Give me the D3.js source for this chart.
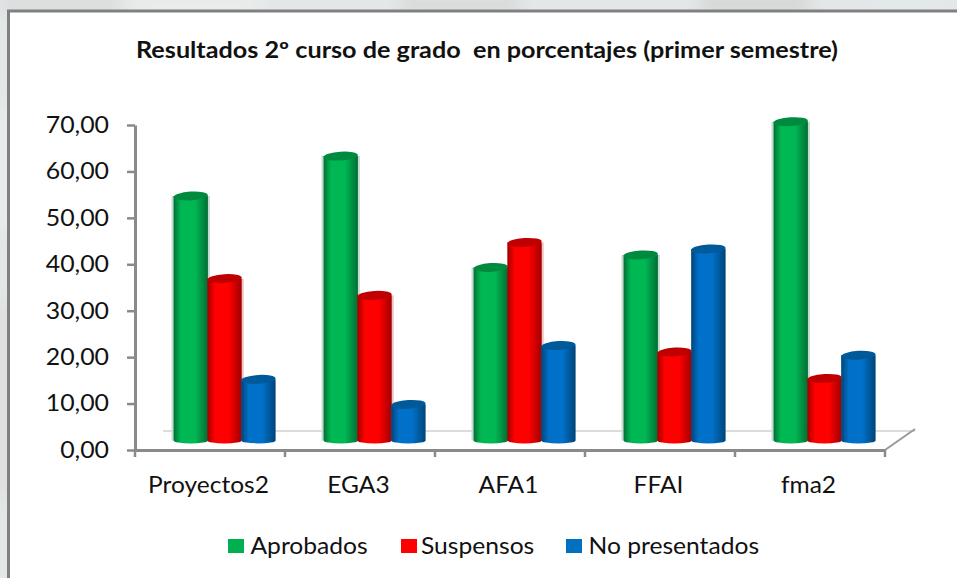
<!DOCTYPE html>
<html><head><meta charset="utf-8">
<script src="https://cdn.jsdelivr.net/npm/d3@7"></script>
<style>html,body{margin:0;padding:0;background:#fff}svg{display:block}text{font-family:Lato,"Open Sans",sans-serif;fill:#111}</style>
</head><body><svg id="c" width="957" height="578"></svg>
<script>
const titleText = "Resultados 2º curso de grado  en porcentajes (primer semestre)";
const categories = ["Proyectos2","EGA3","AFA1","FFAI","fma2"];
const seriesNames = ["Aprobados","Suspensos","No presentados"];
const aprobados = [53.2,61.8,37.8,40.5,69.2];
const suspensos = [35.4,31.8,43.2,19.6,13.9];
const noPresentados = [13.7,8.3,21.0,41.8,18.9];
const yTicks = [0,10,20,30,40,50,60,70];
const seriesValues = [aprobados,suspensos,noPresentados];
const palette = [
 {main:"#00b853",edge:"#006f35",top:"#008a40",legend:"#00b050",halo:"#c4dccf"},
 {main:"#ff0000",edge:"#a00000",top:"#c00000",legend:"#ff0000",halo:"#eec4c4"},
 {main:"#0070c8",edge:"#004478",top:"#005a9a",legend:"#0070c0",halo:"#c2d6e6"}];

const svg = d3.select("#c");
const defs = svg.append("defs");
palette.forEach((p,i)=>{
  const g = defs.append("linearGradient").attr("id","g"+i);
  [[0,p.edge],[.22,p.main],[.62,p.main],[1,p.edge]].forEach(s=>g.append("stop").attr("offset",s[0]).attr("stop-color",s[1]));
});
const blur = defs.append("filter").attr("id","soft");
blur.append("feGaussianBlur").attr("stdDeviation",8);

// backdrop behind the white panel
const bg = svg.append("g");
bg.append("rect").attr("width",957).attr("height",578).attr("fill","#e4e7e8");
bg.append("g").attr("filter","url(#soft)").selectAll("rect")
  .data([[0,0,120,10,"#d4d4d4"],[130,0,130,12,"#eeeeee"],[400,0,120,10,"#cfcfcf"],[560,0,90,10,"#e2e6e8"],[700,0,110,8,"#c2c2c2"],[860,0,97,10,"#e2e8ea"],[0,110,8,120,"#f0f2f3"],[0,300,8,200,"#d8d8d8"]])
  .join("rect").attr("x",d=>d[0]).attr("y",d=>d[1]).attr("width",d=>d[2]).attr("height",d=>d[3]).attr("fill",d=>d[4]);
svg.append("rect").attr("x",8.5).attr("y",11).attr("width",960).attr("height",580)
  .attr("fill","#fff").attr("stroke","#808080").attr("stroke-width",3);

svg.append("text").attr("x",487).attr("y",58).attr("text-anchor","middle")
  .attr("font-size",22).attr("font-weight",700).style("white-space","pre")
  .attr("textLength",702).attr("lengthAdjust","spacingAndGlyphs").text(titleText);

const x0 = d3.scaleBand().domain(categories).range([135,885]);
const y = d3.scaleLinear().domain([0,70]).range([450,125]);
const x1 = d3.scaleBand().domain(d3.range(3)).range([38.5,140]);
const depth = 7, ry = 4.4, ryBase = 3;

// floor
svg.append("line").attr("x1",163).attr("x2",915).attr("y1",431).attr("y2",431).attr("stroke","#dcdcdc").attr("stroke-width",2);
svg.append("line").attr("x1",885).attr("x2",915).attr("y1",y(0)).attr("y2",429).attr("stroke","#999").attr("stroke-width",2);

// bars
const groups = svg.append("g").selectAll("g").data(categories).join("g")
  .attr("transform",d=>`translate(${x0(d)},0)`);
seriesValues.forEach((vals,s)=>{
  const p = palette[s], w = x1.bandwidth()+0.6;
  const bar = groups.append("g").attr("transform",`translate(${x1(s)},0)`);
  const base = y(0)-depth-2.6;
  const body = (c)=>{
    const top = y(vals[c])-depth;
    return `M0,${top}L0,${base}A${w/2},${ryBase} 0 0 0 ${w},${base}L${w},${top}Z`;
  };
  if(s===0) bar.append("line").attr("x1",-1).attr("x2",-1).attr("y1",(d,c)=>y(vals[c])-depth).attr("y2",base).attr("stroke",p.halo).attr("stroke-width",2);
  if(s<2) bar.append("line").attr("x1",w+1).attr("x2",w+1).attr("y1",(d,c)=>y(vals[c])-depth).attr("y2",base).attr("stroke",p.halo).attr("stroke-width",2);
  bar.append("path").attr("d",(d,c)=>body(c)).attr("fill",`url(#g${s})`);
  bar.append("ellipse").attr("cx",w/2).attr("cy",(d,c)=>y(vals[c])-depth).attr("rx",w/2).attr("ry",ry)
    .attr("transform",(d,c)=>`rotate(-3.5 ${w/2} ${y(vals[c])-depth})`).attr("fill",p.top);
});

// axes
const fmt = v=>d3.format(".2f")(v).replace(".",",");
const yAxis = svg.append("g").attr("transform","translate(135,0)")
  .call(d3.axisLeft(y).tickValues(yTicks).tickFormat(fmt).tickSize(8).tickSizeOuter(0).tickPadding(18));
const xAxis = svg.append("g").attr("transform",`translate(0,${y(0)})`)
  .call(d3.axisBottom(x0).tickValues([]).tickSize(0));
const xTickPos = categories.map(c=>x0(c)).concat([x0.range()[1]]);
xAxis.selectAll("line.t").data(xTickPos).join("line").attr("class","t").attr("x1",d=>d).attr("x2",d=>d).attr("y1",0).attr("y2",7);
[yAxis,xAxis].forEach(a=>{
  a.selectAll("path").attr("stroke","#8a8a8a").attr("stroke-width",3);
  a.selectAll("line").attr("stroke","#8a8a8a").attr("stroke-width",2.5);
});
yAxis.selectAll("text").attr("font-size",23).style("font-family","Lato").attr("fill","#111")
  .attr("lengthAdjust","spacingAndGlyphs").attr("textLength",function(){return this.getComputedTextLength()*1.08;});
xAxis.append("g").selectAll("text").data(categories).join("text")
  .attr("x",d=>x0(d)+x0.bandwidth()/2-1.5).attr("y",43).attr("text-anchor","middle")
  .attr("font-size",23).attr("fill","#111").style("font-family","Lato").text(d=>d)
  .attr("lengthAdjust","spacingAndGlyphs").attr("textLength",function(){return this.getComputedTextLength()*1.065;});

// legend
const legendX = [228,401,566];
const lg = svg.append("g").selectAll("g").data(seriesNames).join("g")
  .attr("transform",(d,i)=>`translate(${legendX[i]},539)`);
lg.append("rect").attr("width",16).attr("height",14).attr("fill",(d,i)=>palette[i].legend);
lg.append("text").attr("x",(d,i)=>i===1?20:22.5).attr("y",15).attr("font-size",23).text(d=>d)
  .attr("lengthAdjust","spacingAndGlyphs").attr("textLength",function(){return this.getComputedTextLength()*1.07;});
</script></body></html>
